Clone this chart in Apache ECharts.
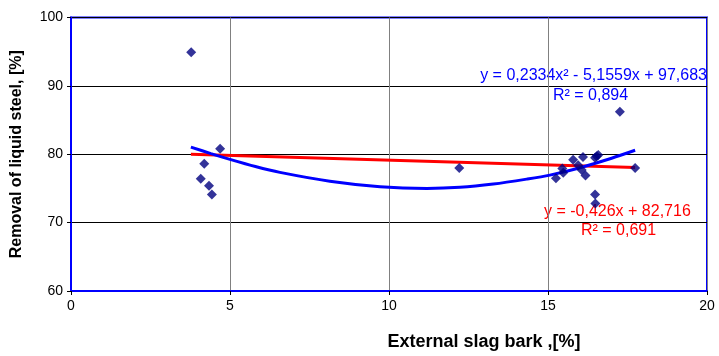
<!DOCTYPE html>
<html>
<head>
<meta charset="utf-8">
<script src="https://cdn.jsdelivr.net/npm/echarts@6/dist/echarts.min.js"></script>
<style>html,body{margin:0;padding:0;background:#fff}#c{width:719px;height:356px}</style>
</head>
<body>
<div id="c"></div>
<script>
// Measured points (External slag bark %, Removal of liquid steel %)
const slagX = [3.78, 4.69, 4.19, 4.08, 4.34, 4.43, 12.21, 17.26, 17.74, 15.25, 15.48, 15.45, 15.79, 16.10, 15.95, 16.06, 16.18, 16.48, 16.58, 16.53, 16.48, 16.49];
const removalY = [94.9, 80.8, 78.6, 76.4, 75.4, 74.1, 78.0, 86.2, 78.0, 76.5, 77.3, 77.9, 79.2, 79.6, 78.4, 77.7, 76.9, 79.5, 79.9, 79.7, 74.1, 72.8];
// Linear trend line as drawn (endpoints)
const linX = [3.77, 17.74];
const linY = [80.0, 78.07];
// Polynomial trend line as drawn (samples)
const polyX = [3.77, 4.4, 5.0, 5.8, 6.57, 8.14, 9.72, 11.19, 12.23, 13.28, 14.33, 15.06, 15.95, 17.0, 17.74];
const polyY = [81.05, 80.1, 79.25, 78.2, 77.35, 76.05, 75.24, 75.0, 75.16, 75.64, 76.36, 76.95, 77.96, 79.42, 80.58];
// Labels
const xTitle = 'External slag bark ,[%]';
const yTitle = 'Removal of liquid steel, [%]';
const polyEq = 'y = 0,2334x² - 5,1559x + 97,683';
const polyR2 = 'R² = 0,894';
const linEq = 'y = -0,426x + 82,716';
const linR2 = 'R² = 0,691';

const zip = (a, b) => a.map((v, i) => [v, b[i]]);
const F = 'Liberation Sans, Arial, sans-serif';
const chart = echarts.init(document.getElementById('c'), null, {renderer: 'canvas'});
chart.setOption({
  animation: false,
  backgroundColor: '#fff',
  grid: {left: 71, top: 17.5, right: 12, bottom: 64, show: true, borderColor: '#0000ff', borderWidth: 2, backgroundColor: 'transparent'},
  xAxis: {
    type: 'value', min: 0, max: 20, interval: 5,
    name: xTitle, nameLocation: 'middle', nameGap: 42,
    nameTextStyle: {fontFamily: F, fontWeight: 'bold', fontSize: 18, color: '#000', padding: [0, 0, 0, 190]},
    axisLine: {show: true, lineStyle: {color: '#0000ff', width: 2}},
    axisTick: {show: true, length: 4, lineStyle: {color: '#000'}},
    axisLabel: {fontFamily: F, fontSize: 14, color: '#000', margin: 8},
    splitLine: {show: true, lineStyle: {color: '#808080', width: 1}}
  },
  yAxis: {
    type: 'value', min: 60, max: 100, interval: 10,
    name: yTitle, nameLocation: 'middle', nameGap: 46,
    nameTextStyle: {fontFamily: F, fontWeight: 'bold', fontSize: 16, color: '#000'},
    axisLine: {show: true, lineStyle: {color: '#0000ff', width: 2}},
    axisTick: {show: true, length: 4, lineStyle: {color: '#000'}},
    axisLabel: {fontFamily: F, fontSize: 14, color: '#000', margin: 8},
    splitLine: {show: true, lineStyle: {color: '#000', width: 1}}
  },
  series: [
    {type: 'line', data: zip(linX, linY), symbol: 'none', lineStyle: {color: '#ff0000', width: 3}, z: 2},
    {type: 'line', data: zip(polyX, polyY), symbol: 'none', smooth: 0.3, lineStyle: {color: '#0000ff', width: 3}, z: 3},
    {type: 'scatter', data: zip(slagX, removalY), symbol: 'diamond', symbolSize: 10, itemStyle: {color: '#000080'}, z: 4}
  ],
  graphic: [
    {type: 'text', right: 12, top: 68, style: {text: polyEq, fill: '#0000ff', font: '16px ' + F}},
    {type: 'text', left: 553, top: 88, style: {text: polyR2, fill: '#0000ff', font: '16px ' + F}},
    {type: 'text', left: 544, top: 204, style: {text: linEq, fill: '#ff0000', font: '16px ' + F}},
    {type: 'text', left: 581, top: 223, style: {text: linR2, fill: '#ff0000', font: '16px ' + F}}
  ]
});
</script>
</body>
</html>
